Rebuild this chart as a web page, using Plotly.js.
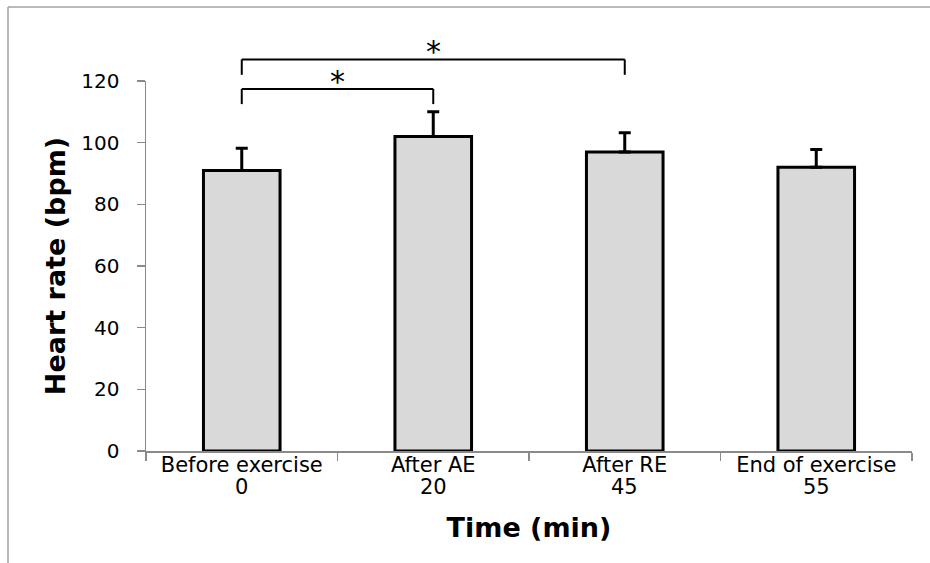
<!DOCTYPE html>
<html>
<head>
<meta charset="utf-8">
<script src="https://cdn.plot.ly/plotly-3.0.1.min.js"></script>
<style>html,body{margin:0;padding:0;background:#fff;}#chart{width:930px;height:563px;}</style>
</head>
<body>
<div id="chart"></div>
<script>
// ---- data ----
const categories = ['Before exercise', 'After AE', 'After RE', 'End of exercise'];
const times = ['0', '20', '45', '55'];
const heartRate = [91, 102, 97, 92];
const sdUpper = [7.2, 8.0, 6.2, 5.8];
const yTicks = [0, 20, 40, 60, 80, 100, 120];
// significance comparisons (category index pairs), bracket heights (bpm)
const compPairs = [[0, 1], [0, 2]];
const bracketTop = [117.4, 127.0];
const bracketLeg = [112.5, 122.0];
const compLabels = ['*', '*'];

// ---- layout geometry ----
const W = 930, H = 563;
const M = {l: 146, r: 18, t: 81, b: 112};
const plotW = W - M.l - M.r, plotH = H - M.t - M.b;
const yRange = [0, 120];
const xRange = [-0.5, categories.length - 0.5];
const FONT = 'DejaVu Sans, Verdana, sans-serif';
const AXIS_GRAY = '#8a8a8a';

function catToPaper(i) { return (i - xRange[0]) / (xRange[1] - xRange[0]); }
function valToPaper(v) { return (v - yRange[0]) / (yRange[1] - yRange[0]); }
function pxToPaperX(px) { return (px - M.l) / plotW; }
function pxToPaperY(py) { return (H - M.b - py) / plotH; }

const shapes = [];
// outer figure frame (top and left edges visible)
shapes.push({type: 'line', xref: 'paper', yref: 'paper',
  x0: pxToPaperX(8), x1: pxToPaperX(931), y0: pxToPaperY(7), y1: pxToPaperY(7),
  line: {color: '#a3a3a3', width: 1.5}});
shapes.push({type: 'line', xref: 'paper', yref: 'paper',
  x0: pxToPaperX(8), x1: pxToPaperX(8), y0: pxToPaperY(7), y1: pxToPaperY(564),
  line: {color: '#a3a3a3', width: 1.5}});

const annotations = [];
compPairs.forEach(function (pair, k) {
  const xa = catToPaper(pair[0]), xb = catToPaper(pair[1]);
  const yt = valToPaper(bracketTop[k]), yl = valToPaper(bracketLeg[k]);
  const ln = {color: '#000', width: 2};
  shapes.push({type: 'line', xref: 'paper', yref: 'paper', x0: xa, x1: xb, y0: yt, y1: yt, line: ln});
  shapes.push({type: 'line', xref: 'paper', yref: 'paper', x0: xa, x1: xa, y0: yt, y1: yl, line: ln});
  shapes.push({type: 'line', xref: 'paper', yref: 'paper', x0: xb, x1: xb, y0: yt, y1: yl, line: ln});
  annotations.push({xref: 'paper', yref: 'paper', x: (xa + xb) / 2, y: yt,
    text: compLabels[k], showarrow: false, xanchor: 'center', yanchor: 'bottom',
    yshift: -12, font: {family: FONT, size: 30, color: '#000'}});
});

// second line of each category label: the time point (min)
times.forEach(function (t, i) {
  annotations.push({xref: 'x', yref: 'paper', x: i, y: pxToPaperY(487),
    text: t, showarrow: false, xanchor: 'center', yanchor: 'middle',
    font: {family: FONT, size: 21, color: '#000'}});
});

const trace = {
  type: 'bar',
  x: categories,
  y: heartRate,
  width: 0.4,
  marker: {color: '#d9d9d9', line: {color: '#000', width: 3}},
  error_y: {type: 'data', symmetric: false, array: sdUpper,
    arrayminus: sdUpper.map(function () { return 0; }),
    color: '#000', thickness: 3, width: 6},
  hoverinfo: 'x+y'
};

const layout = {
  width: W, height: H,
  margin: {l: M.l, r: M.r, t: M.t, b: M.b, pad: 0},
  paper_bgcolor: '#fff', plot_bgcolor: '#fff',
  showlegend: false,
  font: {family: FONT, color: '#000'},
  xaxis: {
    type: 'category', range: xRange,
    tickmode: 'array', tickvals: categories, ticktext: categories,
    tickson: 'boundaries', ticks: 'outside', ticklen: 8, tickwidth: 1.5, tickcolor: AXIS_GRAY,
    showline: true, linecolor: AXIS_GRAY, linewidth: 1.5,
    showgrid: false, zeroline: false,
    tickfont: {family: FONT, size: 21, color: '#000'},
    ticklabelstandoff: -6,
    title: {text: 'Time (min)', standoff: 42,
      font: {family: FONT, size: 27, weight: 'bold', color: '#000'}}
  },
  yaxis: {
    range: yRange, tickmode: 'array', tickvals: yTicks,
    ticks: 'outside', ticklen: 8, tickwidth: 1.5, tickcolor: AXIS_GRAY,
    showline: true, linecolor: AXIS_GRAY, linewidth: 1.5,
    showgrid: false, zeroline: false,
    tickfont: {family: FONT, size: 20, color: '#000'},
    ticklabelstandoff: 13,
    title: {text: 'Heart rate (bpm)', standoff: 8,
      font: {family: FONT, size: 27, weight: 'bold', color: '#000'}}
  },
  shapes: shapes,
  annotations: annotations
};

Plotly.newPlot('chart', [trace], layout, {displayModeBar: false, staticPlot: true});
</script>
</body>
</html>
